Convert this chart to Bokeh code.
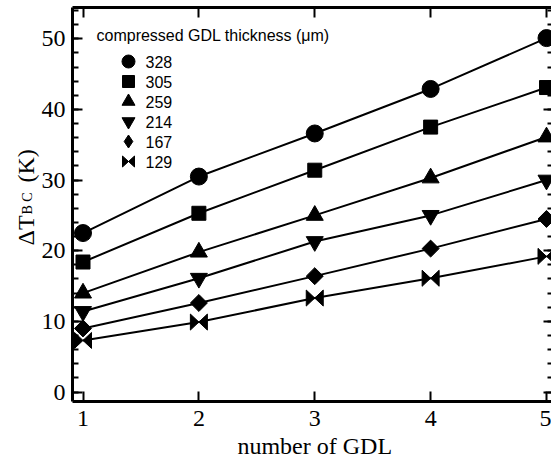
import math
from bokeh.plotting import figure
from bokeh.models import Range1d, LinearAxis, FixedTicker, Label
from bokeh.embed import file_html
from bokeh.resources import INLINE

# ---------------- data ----------------
gdl_count = [1, 2, 3, 4, 5]
thickness_labels = ["328", "305", "259", "214", "167", "129"]
dT_328 = [22.5, 30.5, 36.6, 42.9, 50.1]
dT_305 = [18.4, 25.3, 31.4, 37.5, 43.1]
dT_259 = [14.0, 19.8, 25.0, 30.3, 36.1]
dT_214 = [11.4, 16.1, 21.3, 25.0, 30.0]
dT_167 = [9.0, 12.6, 16.4, 20.3, 24.5]
dT_129 = [7.3, 9.9, 13.3, 16.1, 19.2]
x_ticks = [1, 2, 3, 4, 5]
y_ticks = [0, 10, 20, 30, 40, 50]
y_minor_ticks = list(range(0, 55, 2))

# ---------------- layout (canvas pixels) ----------------
W, H = 551, 457
BOX_L, BOX_T, BOX_B = 72, 7, 401          # plot box edges
BOX_R = W + 2                             # right edge just outside the window
X1_PX, X5_PX = 82.5, 546.0                # where x=1 and x=5 fall
Y0_PX, Y50_PX = 391.5, 38.3               # where y=0 and y=50 fall
px_x = (X5_PX - X1_PX) / 4.0
px_y = (Y0_PX - Y50_PX) / 50.0


def dx(cx):  # canvas x -> data x
    return 1 + (cx - X1_PX) / px_x


def dy(cy):  # canvas y -> data y
    return (Y0_PX - cy) / px_y


SERIF = "Liberation Serif"
SANS = "Liberation Sans"

p = figure(width=W, height=H, output_backend="svg", toolbar_location=None,
           x_range=Range1d(dx(0), dx(W)), y_range=Range1d(dy(H), dy(0)),
           x_axis_location=None, y_axis_location=None,
           min_border_left=0, min_border_right=0, min_border_top=0, min_border_bottom=0,
           background_fill_color="white", border_fill_color="white")
p.grid.visible = False
p.outline_line_color = None

xb = (dx(BOX_L), dx(BOX_R))
yb = (dy(BOX_B), dy(BOX_T))


def make_axis(ticks, minor, loc, bounds, labels):
    ax = LinearAxis(ticker=FixedTicker(ticks=ticks, minor_ticks=minor),
                    fixed_location=loc, bounds=bounds)
    ax.axis_line_color = "black"
    ax.axis_line_width = 3
    ax.major_tick_in = 10
    ax.major_tick_out = 0
    ax.minor_tick_in = 6
    ax.minor_tick_out = 0
    ax.major_tick_line_width = 2
    ax.minor_tick_line_width = 2
    ax.major_tick_line_color = "black"
    ax.minor_tick_line_color = "black"
    if labels:
        ax.major_label_text_font = SERIF
        ax.major_label_text_font_size = "24px"
        ax.major_label_text_color = "black"
    else:
        ax.major_label_text_color = None
        ax.major_label_text_alpha = 0
    return ax


bottom = make_axis(x_ticks, [], yb[0], xb, True)
bottom.major_label_standoff = 9
p.add_layout(bottom, "below")
left = make_axis(y_ticks, y_minor_ticks, xb[0], yb, True)
left.major_label_standoff = 7
p.add_layout(left, "left")
p.add_layout(make_axis(x_ticks, [], yb[1], xb, False), "above")
p.add_layout(make_axis(y_ticks, y_minor_ticks, xb[1], yb, False), "right")

# ---------------- series ----------------
series = [dT_328, dT_305, dT_259, dT_214, dT_167, dT_129]
data_markers = [("circle", 17, 0), ("square", 14, 0), ("triangle", 17, 0),
                ("inverted_triangle", 17, 0), ("square", 12, math.pi / 4), (None, 0, 0)]
legend_markers = [("circle", 13, 0), ("square", 12, 0), ("triangle", 13, 0),
                  ("inverted_triangle", 13, 0), ("diamond", 13, 0), (None, 0, 0)]

for vals in series:
    p.line(gdl_count, vals, line_color="black", line_width=2)

for vals, (m, s, a) in zip(series, data_markers):
    if m is not None:
        p.scatter(gdl_count, vals, marker=m, size=s, angle=a, color="black")


def bowtie(xc, yc, hw_px, hh_px):
    ddx = hw_px / px_x
    ddy = hh_px / px_y
    xs = [[x - ddx, x + ddx, x + ddx, x - ddx] for x in xc]
    ys = [[y + ddy, y - ddy, y + ddy, y - ddy] for y in yc]
    return xs, ys


bxs, bys = bowtie(gdl_count, dT_129, 8.5, 8)
p.patches(bxs, bys, fill_color="black", line_color="black", line_width=1)

# ---------------- legend (drawn by hand) ----------------
LEG_MARK_X, LEG_TEXT_X = 128, 145
LEG_ROW0, LEG_STEP = 61, 20
for i, (lab, (m, s, a)) in enumerate(zip(thickness_labels, legend_markers)):
    cy = LEG_ROW0 + i * LEG_STEP
    if m is not None:
        p.scatter([dx(LEG_MARK_X)], [dy(cy)], marker=m, size=s, angle=a, color="black")
    else:
        lbx, lby = bowtie([dx(LEG_MARK_X)], [dy(cy)], 6, 5.5)
        p.patches(lbx, lby, fill_color="black", line_color="black", line_width=1)
    p.add_layout(Label(x=LEG_TEXT_X, y=H - cy, x_units="screen", y_units="screen",
                       text=lab, text_font=SANS, text_font_size="16px",
                       text_baseline="middle", text_align="left", text_color="black"))

p.add_layout(Label(x=96, y=H - 35, x_units="screen", y_units="screen",
                   text="compressed GDL thickness (\u03bcm)", text_font=SANS,
                   text_font_size="16px", text_baseline="middle", text_align="left",
                   text_color="black"))

# ---------------- axis titles ----------------
p.add_layout(Label(x=3, y=H - 445, x_units="data", y_units="screen", text="number of GDL",
                   text_font=SERIF, text_font_size="24px", text_align="center",
                   text_baseline="alphabetic", text_color="black"))

YL_BASE_X = 25
p.add_layout(Label(x=YL_BASE_X, y=H - 245, x_units="screen", y_units="screen",
                   text="\u0394T", angle=math.pi / 2, text_font=SERIF, text_font_size="24px",
                   text_align="left", text_baseline="alphabetic", text_color="black"))
p.add_layout(Label(x=YL_BASE_X + 2, y=H - 214, x_units="screen", y_units="screen",
                   text="B C", angle=math.pi / 2, text_font=SERIF, text_font_size="14px",
                   text_align="left", text_baseline="alphabetic", text_color="black"))
p.add_layout(Label(x=YL_BASE_X, y=H - 182, x_units="screen", y_units="screen",
                   text="(K)", angle=math.pi / 2, text_font=SERIF, text_font_size="24px",
                   text_align="left", text_baseline="alphabetic", text_color="black"))

open("out.html", "w").write(file_html(p, INLINE))
